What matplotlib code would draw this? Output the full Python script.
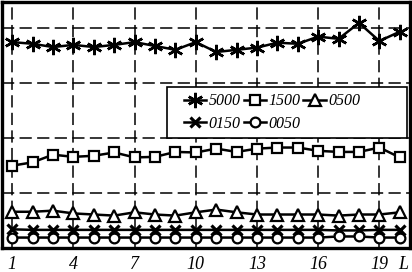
import numpy as np
import matplotlib
matplotlib.use("Agg")
import matplotlib.pyplot as plt
from matplotlib.patches import Rectangle

#------------- DATA -------------#
L = np.arange(1, 21)
xtick_vals = [1, 4, 7, 10, 13, 16, 19]
xtick_labels = ["1", "4", "7", "10", "13", "16", "19"]

s5000 = [3.75, 3.72, 3.66, 3.70, 3.66, 3.70, 3.75, 3.68, 3.61, 3.75,
         3.57, 3.61, 3.65, 3.74, 3.72, 3.85, 3.81, 4.10, 3.77, 3.94]
s1500 = [1.50, 1.56, 1.70, 1.66, 1.68, 1.74, 1.65, 1.66, 1.75, 1.74,
         1.81, 1.75, 1.81, 1.83, 1.83, 1.77, 1.75, 1.75, 1.83, 1.65]
s0500 = [0.66, 0.66, 0.68, 0.63, 0.61, 0.59, 0.65, 0.61, 0.59, 0.65,
         0.70, 0.65, 0.61, 0.61, 0.61, 0.61, 0.59, 0.61, 0.61, 0.65]
s0150 = [0.34, 0.33, 0.33, 0.33, 0.33, 0.33, 0.33, 0.33, 0.33, 0.33,
         0.33, 0.33, 0.33, 0.33, 0.33, 0.33, 0.32, 0.32, 0.33, 0.33]
s0050 = [0.19, 0.19, 0.19, 0.19, 0.19, 0.19, 0.19, 0.19, 0.19, 0.19,
         0.19, 0.19, 0.19, 0.19, 0.19, 0.19, 0.21, 0.21, 0.19, 0.19]

series = [
    ("5000", s5000, dict(marker=(6, 2, 0), markersize=11, markeredgewidth=1.8)),
    ("1500", s1500, dict(marker="s", markersize=7, markerfacecolor="white", markeredgewidth=1.6)),
    ("0500", s0500, dict(marker="^", markersize=8, markerfacecolor="white", markeredgewidth=1.6)),
    ("0150", s0150, dict(marker="x", markersize=7, markeredgewidth=2.3)),
    ("0050", s0050, dict(marker="o", markersize=7, markerfacecolor="white", markeredgewidth=1.6)),
]

#------------- PLOT -------------#
fig = plt.figure(figsize=(4.12, 2.72), dpi=100)
ax = fig.add_axes([2 / 412, 24 / 272, 408 / 412, 246.5 / 272])

lines = {}
for name, vals, style in series:
    ln, = ax.plot(L, vals, color="black", linewidth=1.8, label=name, **style)
    lines[name] = ln

ax.set_xlim(0.5, 20.5)
ax.set_ylim(0, 4.49)
ax.set_xticks(xtick_vals)
ax.set_xticklabels(xtick_labels)
ax.set_yticks([1, 2, 3, 4])
ax.tick_params(axis="y", left=False, labelleft=False)
ax.tick_params(axis="x", length=0, pad=6)
for lab in ax.get_xticklabels():
    lab.set_fontfamily("Liberation Serif")
    lab.set_fontstyle("italic")
    lab.set_fontsize(13)

ax.grid(True, color="black", linestyle=(0, (8, 3.5)), linewidth=1.1)
ax.set_axisbelow(True)
for sp in ax.spines.values():
    sp.set_linewidth(2.4)

ax.text(0.983, -0.066, "L", transform=ax.transAxes, ha="center", va="center",
        fontfamily="Liberation Serif", fontstyle="italic", fontsize=13)

# legend box drawn on its own, entries placed inside it
ax.add_patch(Rectangle((0.404, 0.448), 0.589, 0.207, transform=ax.transAxes,
                       facecolor="white", edgecolor="black", linewidth=1.2,
                       zorder=4.5))
order = ["5000", "0150", "1500", "0050", "0500"]
leg = ax.legend([lines[k] for k in order], order, ncol=3,
                loc="upper left", bbox_to_anchor=(0.445, 0.628),
                prop=dict(family="Liberation Serif", style="italic", size=11.5),
                handlelength=1.4, handletextpad=0.15, columnspacing=0.2,
                labelspacing=0.42, borderpad=0, frameon=False, borderaxespad=0)
leg.set_zorder(5)

fig.savefig("out.png", dpi=100)
